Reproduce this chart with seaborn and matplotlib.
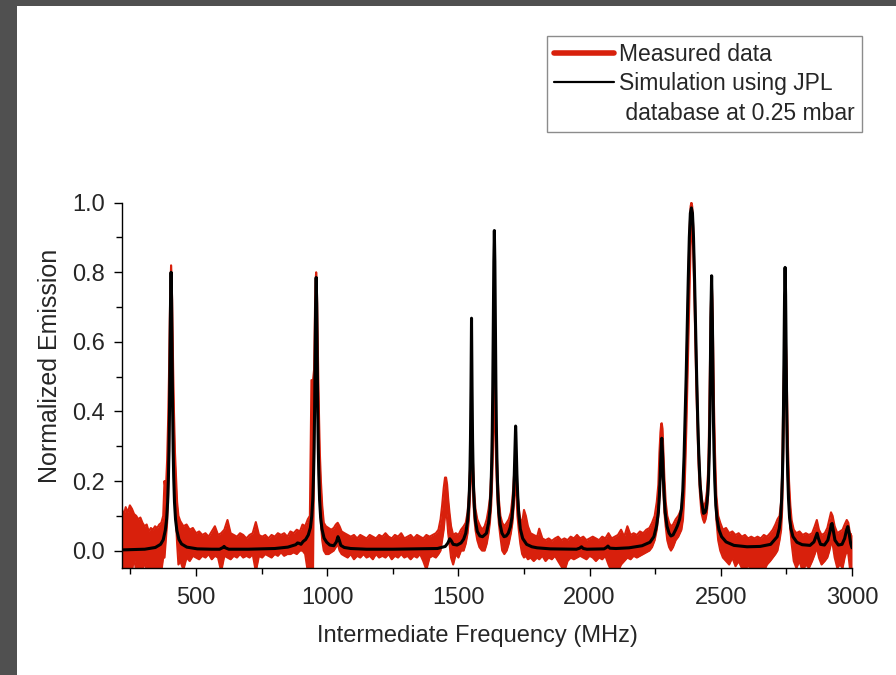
import matplotlib
matplotlib.use("Agg")
import matplotlib.pyplot as plt
import seaborn as sns
from matplotlib.lines import Line2D
from matplotlib.patches import Rectangle
from matplotlib.ticker import MultipleLocator, FormatStrFormatter

# measured spectrum: upper / lower edge of the noisy trace
meas_freq = [
    218, 225, 232, 240, 248, 256, 264, 272, 280, 288, 296, 304, 312, 320, 328, 336, 344, 352, 360, 368, 375,
    380, 385, 390, 394, 397, 400, 402, 404, 405, 407, 409, 411, 413, 416, 420, 424, 428, 433,
    440, 452, 464, 476, 488, 500, 512, 524, 536, 548, 560, 572, 584, 596, 608, 620, 632, 644, 656, 668,
    680, 692, 704, 716, 728, 740, 752, 764, 776, 788, 800, 812, 824, 836, 848, 860, 872, 884, 896, 906,
    916, 926, 934, 940, 946, 950, 952, 954, 956, 958, 960, 962, 964, 966, 969, 972, 976, 981, 987, 995,
    1005, 1015, 1025, 1033, 1040, 1047, 1055, 1066, 1078, 1090, 1102, 1114, 1126, 1138, 1150, 1162, 1174,
    1186, 1198, 1210, 1222, 1234, 1246, 1258, 1270, 1282, 1294, 1306, 1318, 1330, 1342, 1354, 1366, 1378,
    1390, 1402, 1414, 1424, 1432, 1438, 1444, 1449, 1453, 1457, 1461, 1466, 1472, 1480, 1490, 1500, 1510,
    1520, 1528, 1535, 1540, 1544, 1547, 1550, 1553, 1556, 1560, 1565, 1572, 1580, 1590, 1600, 1608, 1615,
    1620, 1625, 1629, 1632, 1635, 1637, 1639, 1642, 1645, 1649, 1654, 1660, 1667, 1675, 1684, 1692, 1700,
    1706, 1710, 1714, 1718, 1721, 1725, 1730, 1736, 1743, 1750, 1757, 1765, 1775, 1787, 1800, 1808, 1820,
    1832, 1844, 1856, 1868, 1880, 1892, 1904, 1916, 1928, 1940, 1952, 1964, 1976, 1988, 2000, 2012, 2024,
    2036, 2048, 2060, 2072, 2084, 2096, 2108, 2120, 2132, 2144, 2156, 2168, 2180, 2192, 2204, 2216, 2228,
    2238, 2248, 2256, 2262, 2266, 2270, 2273, 2275, 2278, 2281, 2285, 2290, 2296, 2303, 2310, 2318, 2328,
    2338, 2344, 2350, 2356, 2361, 2365, 2369, 2373, 2377, 2381, 2385, 2388, 2391, 2395, 2399, 2403, 2407, 2411, 2415, 2420, 2426, 2432,
    2437, 2442, 2447, 2451, 2454, 2456, 2459, 2462, 2465, 2468, 2471, 2474, 2478, 2483, 2490,
    2498, 2508, 2520, 2532, 2544, 2556, 2568, 2580, 2592, 2604, 2616, 2628, 2640, 2652, 2664, 2676, 2688,
    2698, 2708, 2716, 2724, 2730, 2734, 2737, 2740, 2743, 2745, 2747, 2750, 2753, 2756, 2760, 2765, 2770,
    2778, 2788, 2800, 2812, 2824, 2836, 2848, 2858, 2866, 2874, 2884, 2896, 2906, 2914, 2920, 2926, 2934,
    2944, 2954, 2964, 2972, 2980, 2986, 2992, 3000,
]
meas_hi = [
    0.12, 0.10, 0.125, 0.11, 0.13, 0.12, 0.105, 0.10, 0.09, 0.095, 0.08, 0.07, 0.075, 0.055, 0.065, 0.06, 0.07, 0.065, 0.075, 0.08, 0.10,
    0.20, 0.17, 0.26, 0.38, 0.50, 0.66, 0.74, 0.80, 0.82, 0.79, 0.72, 0.62, 0.52, 0.40, 0.28, 0.21, 0.14, 0.10,
    0.085, 0.07, 0.075, 0.06, 0.065, 0.05, 0.055, 0.045, 0.05, 0.04, 0.055, 0.07, 0.045, 0.05, 0.06, 0.088, 0.05, 0.045, 0.04, 0.05,
    0.045, 0.035, 0.045, 0.05, 0.082, 0.045, 0.04, 0.045, 0.035, 0.045, 0.04, 0.05, 0.045, 0.05, 0.04, 0.055, 0.05, 0.06, 0.055, 0.075,
    0.07, 0.09, 0.10, 0.49, 0.49, 0.52, 0.62, 0.72, 0.78, 0.80, 0.78, 0.70, 0.60, 0.50, 0.38, 0.28, 0.20, 0.13, 0.08, 0.07,
    0.065, 0.06, 0.065, 0.075, 0.08, 0.07, 0.055, 0.05, 0.045, 0.04, 0.045, 0.035, 0.045, 0.04, 0.035, 0.045, 0.04,
    0.035, 0.045, 0.04, 0.05, 0.04, 0.035, 0.045, 0.04, 0.05, 0.035, 0.04, 0.045, 0.035, 0.045, 0.04, 0.035, 0.045,
    0.04, 0.045, 0.05, 0.06, 0.09, 0.13, 0.18, 0.21, 0.21, 0.19, 0.15, 0.11, 0.07, 0.045, 0.05, 0.045, 0.06,
    0.07, 0.08, 0.11, 0.16, 0.23, 0.30, 0.356, 0.30, 0.24, 0.17, 0.12, 0.09, 0.075, 0.06, 0.07, 0.09, 0.12,
    0.15, 0.22, 0.30, 0.40, 0.49, 0.511, 0.49, 0.40, 0.31, 0.22, 0.15, 0.10, 0.08, 0.07, 0.08, 0.09, 0.11,
    0.15, 0.19, 0.24, 0.26, 0.23, 0.17, 0.12, 0.09, 0.08, 0.117, 0.10, 0.07, 0.05, 0.045, 0.04, 0.063, 0.035,
    0.03, 0.035, 0.028, 0.035, 0.04, 0.03, 0.035, 0.03, 0.04, 0.035, 0.045, 0.035, 0.04, 0.03, 0.035, 0.04, 0.035,
    0.03, 0.04, 0.035, 0.05, 0.035, 0.04, 0.045, 0.06, 0.04, 0.07, 0.045, 0.05, 0.045, 0.055, 0.05, 0.06, 0.065,
    0.08, 0.10, 0.14, 0.19, 0.28, 0.34, 0.365, 0.366, 0.35, 0.29, 0.21, 0.14, 0.10, 0.08, 0.07, 0.075, 0.09,
    0.10, 0.11, 0.12, 0.17, 0.27, 0.38, 0.52, 0.66, 0.80, 0.92, 0.99, 1.0, 0.99, 0.93, 0.82, 0.68, 0.54, 0.42, 0.31, 0.22, 0.16, 0.13,
    0.13, 0.14, 0.17, 0.22, 0.30, 0.40, 0.55, 0.70, 0.78, 0.72, 0.58, 0.42, 0.28, 0.16, 0.10,
    0.08, 0.06, 0.065, 0.05, 0.055, 0.045, 0.05, 0.04, 0.045, 0.035, 0.04, 0.035, 0.04, 0.035, 0.045, 0.04, 0.05,
    0.06, 0.075, 0.09, 0.10, 0.14, 0.22, 0.38, 0.50, 0.60, 0.634, 0.63, 0.55, 0.42, 0.30, 0.20, 0.13, 0.087,
    0.06, 0.05, 0.055, 0.045, 0.05, 0.045, 0.05, 0.07, 0.088, 0.06, 0.045, 0.05, 0.065, 0.09, 0.11, 0.10, 0.07,
    0.05, 0.055, 0.06, 0.075, 0.088, 0.08, 0.05, 0.045,
]
meas_lo = [
    -0.06, -0.06, -0.06, -0.06, -0.06, -0.06, -0.02, -0.06, -0.06, -0.06, -0.06, -0.03, -0.06, -0.06, -0.06, -0.06, -0.06, -0.06, -0.04, -0.06, -0.02,
    -0.02, 0.03, 0.08, 0.16, 0.26, 0.42, 0.56, 0.70, 0.75, 0.68, 0.56, 0.45, 0.35, 0.24, 0.15, 0.08, 0.02, -0.04,
    -0.03, -0.055, -0.02, -0.03, -0.015, -0.02, -0.025, -0.015, -0.02, -0.01, -0.025, -0.015, -0.02, -0.06, -0.015, -0.02, -0.025, -0.015, -0.02, -0.01,
    -0.02, -0.015, -0.02, -0.01, -0.06, -0.015, -0.02, -0.01, -0.015, -0.02, -0.01, -0.015, -0.005, -0.015, -0.01, -0.01, -0.005, -0.01, 0.0, 0.0,
    -0.01, -0.06, -0.06, -0.06, -0.06, 0.28, 0.40, 0.54, 0.66, 0.74, 0.66, 0.54, 0.42, 0.32, 0.22, 0.15, 0.08, 0.03, 0.0, -0.01,
    -0.01, -0.005, 0.0, 0.01, 0.02, 0.0, -0.01, -0.015, -0.02, -0.01, -0.025, -0.015, -0.02, -0.01, -0.02, -0.015, -0.025,
    -0.01, -0.02, -0.015, -0.02, -0.01, -0.025, -0.015, -0.02, -0.01, -0.02, -0.015, -0.025, -0.015, -0.02, -0.01, -0.03, -0.055,
    -0.02, -0.015, -0.02, -0.01, 0.0, 0.03, 0.06, 0.10, 0.12, 0.09, 0.05, 0.02, -0.02, -0.04, -0.01, -0.02, 0.0,
    0.0, 0.02, 0.05, 0.09, 0.15, 0.22, 0.30, 0.22, 0.16, 0.10, 0.06, 0.03, 0.01, 0.0, 0.0, 0.02, 0.05,
    0.08, 0.13, 0.21, 0.30, 0.42, 0.46, 0.42, 0.30, 0.22, 0.14, 0.08, 0.04, 0.0, -0.01, 0.0, 0.02, 0.05,
    0.08, 0.12, 0.17, 0.20, 0.16, 0.10, 0.06, 0.02, -0.01, -0.02, -0.015, -0.025, -0.02, -0.03, -0.02, -0.025, -0.015,
    -0.03, -0.02, -0.025, -0.015, -0.03, -0.045, -0.06, -0.03, -0.02, -0.025, -0.02, -0.015, -0.02, -0.025, -0.015, -0.02, -0.03,
    -0.02, -0.025, -0.015, -0.04, -0.06, -0.045, -0.06, -0.04, -0.03, -0.02, -0.025, -0.015, -0.02, -0.015, -0.01, -0.005, 0.0,
    0.01, 0.03, 0.06, 0.10, 0.15, 0.22, 0.28, 0.30, 0.24, 0.17, 0.11, 0.07, 0.03, 0.01, 0.0, 0.01, 0.03,
    0.04, 0.05, 0.06, 0.09, 0.16, 0.25, 0.36, 0.49, 0.62, 0.76, 0.88, 0.94, 0.93, 0.86, 0.74, 0.60, 0.46, 0.35, 0.25, 0.17, 0.11, 0.09,
    0.08, 0.09, 0.11, 0.15, 0.21, 0.28, 0.40, 0.58, 0.70, 0.60, 0.45, 0.32, 0.20, 0.09, 0.03,
    0.0, -0.02, -0.03, -0.04, -0.02, -0.045, -0.03, -0.05, -0.06, -0.04, -0.06, -0.05, -0.06, -0.045, -0.06, -0.04, -0.03,
    -0.02, -0.01, 0.0, 0.03, 0.06, 0.12, 0.24, 0.36, 0.50, 0.58, 0.55, 0.42, 0.30, 0.20, 0.13, 0.06, 0.02,
    -0.03, -0.05, -0.03, -0.06, -0.04, -0.05, -0.03, -0.01, 0.01, -0.02, -0.04, -0.03, -0.02, 0.0, 0.02, 0.02, -0.02,
    -0.05, -0.04, -0.05, -0.02, 0.0, -0.01, -0.05, -0.06,
]

# simulated spectrum (JPL database, 0.25 mbar)
sim_freq = [
    218, 260, 305, 345, 365, 375, 383, 388, 392, 395, 397, 399, 401, 403, 405, 407, 409, 411, 413, 415, 418,
    422, 427, 435, 445, 465, 505, 560, 590, 603, 607, 612, 625, 700, 800, 850, 880, 887, 893, 900, 908, 918,
    928, 936, 941, 945, 948, 950, 952, 954, 956, 958, 960, 962, 964, 966, 968, 971, 975, 980, 988, 998, 1010,
    1025, 1035, 1041, 1046, 1052, 1065, 1090, 1150, 1250, 1350, 1420, 1450, 1460, 1467, 1473, 1480, 1495,
    1510, 1520, 1528, 1535, 1539, 1542, 1544, 1546, 1548, 1550, 1552, 1554, 1556, 1558, 1561, 1565, 1572,
    1582, 1592, 1600, 1607, 1615, 1620, 1624, 1627, 1629, 1631, 1633, 1635, 1637, 1639, 1641, 1643, 1645,
    1647, 1650, 1654, 1659, 1666, 1674, 1682, 1690, 1698, 1704, 1708, 1711, 1713, 1715, 1717, 1718, 1719,
    1721, 1723, 1726, 1730, 1736, 1745, 1760, 1780, 1800, 1850, 1950, 1962, 1969, 1976, 1990, 2055, 2064,
    2070, 2077, 2100, 2150, 2200, 2230, 2245, 2255, 2262, 2266, 2269, 2272, 2275, 2278, 2281, 2284, 2288,
    2295, 2303, 2310, 2318, 2328, 2335, 2343, 2350, 2355, 2360, 2364, 2368, 2372, 2376, 2380, 2384, 2388,
    2392, 2396, 2400, 2404, 2408, 2412, 2416, 2421, 2427, 2434, 2440, 2445, 2450, 2453, 2456, 2458, 2460, 2462, 2465, 2468,
    2470, 2472, 2474, 2477, 2481, 2486, 2493, 2503, 2520, 2550, 2600, 2650, 2690, 2715, 2723, 2728, 2732,
    2735, 2737, 2739, 2741, 2743, 2745, 2747, 2749, 2751, 2753, 2755, 2758, 2762, 2767, 2775, 2790, 2810,
    2840, 2855, 2862, 2867, 2872, 2880, 2895, 2908, 2916, 2921, 2924, 2928, 2935, 2948, 2962, 2972, 2979,
    2984, 2989, 2995, 3000,
]
sim_val = [
    0.002, 0.003, 0.004, 0.009, 0.018, 0.031, 0.058, 0.09, 0.14, 0.212, 0.288, 0.40, 0.554, 0.72, 0.80, 0.72, 0.554, 0.40, 0.288, 0.212, 0.14,
    0.09, 0.058, 0.032, 0.019, 0.01, 0.005, 0.004, 0.004, 0.009, 0.012, 0.008, 0.004, 0.004, 0.006, 0.010, 0.017, 0.022, 0.021, 0.018, 0.026, 0.032,
    0.045, 0.066, 0.098, 0.146, 0.22, 0.295, 0.40, 0.55, 0.71, 0.785, 0.71, 0.55, 0.40, 0.295, 0.22, 0.146, 0.095, 0.062, 0.036, 0.024, 0.016,
    0.014, 0.025, 0.040, 0.03, 0.015, 0.009, 0.006, 0.004, 0.004, 0.005, 0.006, 0.012, 0.022, 0.034, 0.028, 0.018, 0.016,
    0.022, 0.033, 0.05, 0.085, 0.125, 0.175, 0.23, 0.32, 0.47, 0.668, 0.47, 0.32, 0.23, 0.175, 0.125, 0.085, 0.055,
    0.042, 0.04, 0.045, 0.05, 0.08, 0.115, 0.17, 0.255, 0.34, 0.47, 0.65, 0.83, 0.92, 0.83, 0.65, 0.47, 0.34,
    0.255, 0.17, 0.11, 0.075, 0.05, 0.04, 0.042, 0.05, 0.068, 0.095, 0.13, 0.175, 0.22, 0.28, 0.34, 0.358, 0.34,
    0.28, 0.22, 0.16, 0.105, 0.062, 0.035, 0.018, 0.011, 0.008, 0.005, 0.004, 0.007, 0.011, 0.006, 0.004, 0.005, 0.009,
    0.013, 0.007, 0.006, 0.008, 0.014, 0.024, 0.04, 0.07, 0.11, 0.16, 0.21, 0.28, 0.323, 0.28, 0.21, 0.16, 0.11,
    0.07, 0.05, 0.042, 0.045, 0.06, 0.072, 0.09, 0.12, 0.17, 0.27, 0.38, 0.50, 0.64, 0.78, 0.90, 0.97, 0.985,
    0.97, 0.90, 0.78, 0.64, 0.50, 0.38, 0.28, 0.19, 0.14, 0.107, 0.11, 0.122, 0.16, 0.20, 0.28, 0.37, 0.50, 0.67, 0.79, 0.66,
    0.50, 0.37, 0.29, 0.20, 0.13, 0.09, 0.06, 0.04, 0.025, 0.015, 0.011, 0.012, 0.018, 0.04, 0.064, 0.095, 0.15,
    0.22, 0.295, 0.415, 0.57, 0.735, 0.814, 0.735, 0.57, 0.415, 0.295, 0.22, 0.15, 0.095, 0.064, 0.04, 0.024, 0.017,
    0.015, 0.025, 0.04, 0.05, 0.035, 0.018, 0.016, 0.03, 0.055, 0.075, 0.078, 0.06, 0.03, 0.016, 0.018, 0.035, 0.058,
    0.069, 0.05, 0.02, 0.008,
]

red = "#d8200c"

sns.set_style("ticks")
plt.rcParams["font.family"] = ["Liberation Sans", "DejaVu Sans"]

fig = plt.figure(figsize=(8.96, 6.75), dpi=100, facecolor="#505050")
fig.patches.append(Rectangle((17 / 896, 0), 1, 1 - 6 / 675, transform=fig.transFigure,
                             facecolor="white", edgecolor="none", zorder=-1))
ax = fig.add_axes([122 / 896, 107 / 675, 730 / 896, 366 / 675])
ax.set_facecolor("white")

ax.fill_between(meas_freq, meas_lo, meas_hi, color=red, lw=0)
sns.lineplot(x=meas_freq, y=meas_hi, color=red, lw=1.5, ax=ax, estimator=None, sort=False)
sns.lineplot(x=meas_freq, y=meas_lo, color=red, lw=1.5, ax=ax, estimator=None, sort=False)
sns.lineplot(x=sim_freq, y=sim_val, color="black", lw=2.2, ax=ax, estimator=None, sort=False)

ax.set_xlim(218, 3000)
ax.set_ylim(-0.05, 1.002)
sns.despine(ax=ax)
ax.spines["left"].set_bounds(-0.05, 1.0)
ax.xaxis.set_major_locator(MultipleLocator(500))
ax.xaxis.set_minor_locator(MultipleLocator(250))
ax.yaxis.set_major_locator(MultipleLocator(0.2))
ax.yaxis.set_minor_locator(MultipleLocator(0.1))
ax.yaxis.set_major_formatter(FormatStrFormatter("%.1f"))
ax.tick_params(which="major", direction="out", length=6, width=1, labelsize=17, color="black")
ax.tick_params(which="minor", direction="out", length=4, width=1, color="black")
ax.tick_params(axis="x", which="major", pad=8)
ax.tick_params(axis="y", which="major", pad=6)
for s in ax.spines.values():
    s.set_color("black")
    s.set_linewidth(1)

ax.set_xlabel("Intermediate Frequency (MHz)", fontsize=17)
ax.set_ylabel("Normalized Emission", fontsize=18)
ax.xaxis.set_label_coords(0.487, -0.155)
ax.yaxis.set_label_coords(-0.082, 0.552)

handles = [
    Line2D([], [], color=red, lw=4),
    Line2D([], [], color="black", lw=1.6),
    Line2D([], [], color="none", lw=0),
]
labels = ["Measured data", "Simulation using JPL", " database at 0.25 mbar"]
leg = ax.legend(handles, labels, loc="upper right", bbox_to_anchor=(862 / 896, 1 - 36 / 675),
                bbox_transform=fig.transFigure, fontsize=16.5, frameon=True, fancybox=False,
                handlelength=2.6, handletextpad=0.25, labelspacing=0.28, borderpad=0.3,
                borderaxespad=0)
leg.get_frame().set_edgecolor("#707070")
leg.get_frame().set_linewidth(1)

fig.savefig("out.png", dpi=100, facecolor=fig.get_facecolor())
